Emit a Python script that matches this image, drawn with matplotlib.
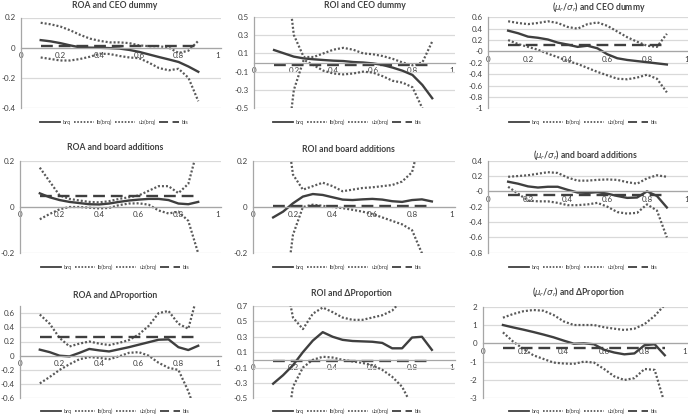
import numpy as np
import matplotlib
matplotlib.use("Agg")
import matplotlib.pyplot as plt
from matplotlib.lines import Line2D

plt.rcParams['font.family'] = ['Lato', 'DejaVu Sans']
plt.rcParams['axes.unicode_minus'] = False

# quantiles on the horizontal axis
q = [0.1, 0.15, 0.2, 0.25, 0.3, 0.35, 0.4, 0.45, 0.5, 0.55, 0.6, 0.65, 0.7, 0.75, 0.8, 0.85, 0.9]

ms = r"($\mu_r$/$\sigma_r$)"
titles = ["ROA and CEO dummy", "ROI and CEO dummy", ms + " and CEO dummy",
          "ROA and board additions", "ROI and board additions", ms + " and board additions",
          "ROA and \u0394Proportion", "ROI and \u0394Proportion", ms + " and \u0394Proportion"]
legend_labels = ["brq", "lb(brq)", "ub(brq)", "bls"]

# ROA and CEO dummy
roa_ceo_brq = [0.05, 0.042, 0.03, 0.015, 0.002, 0.0, -0.001, -0.003, -0.006, -0.015, -0.028, -0.045, -0.062, -0.078, -0.095, -0.125, -0.16]
roa_ceo_lb = [-0.065, -0.075, -0.085, -0.085, -0.075, -0.06, -0.04, -0.042, -0.055, -0.065, -0.07, -0.1, -0.135, -0.15, -0.14, -0.2, -0.355]
roa_ceo_ub = [0.165, 0.155, 0.14, 0.115, 0.085, 0.06, 0.045, 0.035, 0.035, 0.03, 0.015, 0.01, 0.01, 0.0, -0.035, -0.02, 0.045]
roa_ceo_bls = 0.01

# ROI and CEO dummy
roi_ceo_brq = [0.136, 0.1, 0.064, 0.045, 0.035, 0.027, 0.02, 0.016, 0.005, 0.0, -0.01, -0.027, -0.056, -0.09, -0.136, -0.245, -0.39]
roi_ceo_lb = [-2.5, -1.2, -0.3, 0.03, -0.03, -0.09, -0.12, -0.13, -0.12, -0.1, -0.11, -0.15, -0.2, -0.22, -0.27, -0.5, -0.9]
roi_ceo_ub = [2.5, 1.2, 0.3, 0.06, 0.06, 0.1, 0.14, 0.16, 0.14, 0.1, 0.09, 0.07, 0.04, 0.0, -0.03, 0.0, 0.23]
roi_ceo_bls = -0.03

# mu/sigma and CEO dummy
ms_ceo_brq = [0.365, 0.32, 0.26, 0.24, 0.21, 0.155, 0.12, 0.08, 0.1, 0.055, -0.05, -0.12, -0.15, -0.17, -0.19, -0.21, -0.23]
ms_ceo_lb = [0.2, 0.13, 0.08, 0.03, -0.04, -0.1, -0.17, -0.22, -0.29, -0.36, -0.42, -0.48, -0.49, -0.46, -0.41, -0.48, -0.72]
ms_ceo_ub = [0.53, 0.5, 0.48, 0.5, 0.53, 0.5, 0.43, 0.4, 0.48, 0.51, 0.45, 0.35, 0.25, 0.17, 0.1, 0.08, 0.31]
ms_ceo_bls = 0.12

# ROA and board additions
roa_board_brq = [0.059, 0.042, 0.03, 0.022, 0.017, 0.012, 0.011, 0.015, 0.022, 0.028, 0.032, 0.035, 0.035, 0.03, 0.015, 0.012, 0.022]
roa_board_lb = [-0.053, -0.03, -0.01, 0.0, 0.0, -0.003, -0.006, -0.004, 0.008, 0.015, 0.016, 0.01, -0.015, -0.028, -0.02, -0.06, -0.2]
roa_board_ub = [0.17, 0.11, 0.05, 0.035, 0.028, 0.022, 0.02, 0.025, 0.035, 0.042, 0.05, 0.07, 0.09, 0.09, 0.06, 0.1, 0.26]
roa_board_bls = 0.047

# ROI and board additions
roi_board_brq = [-0.045, -0.02, 0.016, 0.045, 0.056, 0.052, 0.042, 0.032, 0.03, 0.033, 0.035, 0.032, 0.025, 0.022, 0.03, 0.033, 0.024]
roi_board_lb = [-0.9, -0.45, -0.12, 0.0, 0.01, 0.005, 0.0, -0.005, -0.012, -0.02, -0.03, -0.045, -0.06, -0.075, -0.1, -0.2, -0.4]
roi_board_ub = [0.9, 0.45, 0.14, 0.075, 0.09, 0.105, 0.09, 0.068, 0.075, 0.082, 0.085, 0.09, 0.095, 0.11, 0.15, 0.32, 0.7]
roi_board_bls = 0.005

# mu/sigma and board additions
ms_board_brq = [0.126, 0.1, 0.065, 0.05, 0.06, 0.06, 0.02, -0.015, -0.02, -0.01, -0.03, -0.06, -0.085, -0.08, 0.0, -0.06, -0.21]
ms_board_lb = [0.06, -0.03, -0.12, -0.13, -0.13, -0.15, -0.18, -0.18, -0.17, -0.15, -0.2, -0.27, -0.29, -0.28, -0.17, -0.25, -0.6]
ms_board_ub = [0.19, 0.2, 0.21, 0.23, 0.25, 0.24, 0.18, 0.14, 0.14, 0.15, 0.155, 0.15, 0.12, 0.1, 0.17, 0.21, 0.19]
ms_board_bls = -0.05

# ROA and delta proportion
roa_prop_brq = [0.085, 0.05, 0.0, -0.01, 0.04, 0.095, 0.075, 0.06, 0.09, 0.12, 0.155, 0.19, 0.225, 0.23, 0.12, 0.08, 0.14]
roa_prop_lb = [-0.39, -0.3, -0.2, -0.12, -0.05, -0.02, -0.03, -0.05, -0.01, 0.04, 0.05, 0.0, -0.1, -0.17, -0.2, -0.5, -0.9]
roa_prop_ub = [0.58, 0.45, 0.25, 0.13, 0.17, 0.2, 0.17, 0.15, 0.18, 0.22, 0.3, 0.42, 0.6, 0.63, 0.45, 0.38, 0.9]
roa_prop_bls = 0.27

# ROI and delta proportion
roi_prop_brq = [-0.31, -0.2, -0.07, 0.1, 0.25, 0.36, 0.3, 0.26, 0.245, 0.24, 0.235, 0.22, 0.15, 0.15, 0.29, 0.3, 0.13]
roi_prop_lb = [-2.0, -1.2, -0.35, -0.1, 0.0, 0.04, 0.03, 0.0, -0.02, -0.04, -0.07, -0.13, -0.22, -0.35, -0.6, -0.9, -1.3]
roi_prop_ub = [2.0, 1.2, 0.55, 0.4, 0.6, 0.68, 0.62, 0.55, 0.52, 0.52, 0.55, 0.58, 0.64, 0.78, 0.95, 1.1, 1.3]
roi_prop_bls = -0.02

# mu/sigma and delta proportion
ms_prop_brq = [1.0, 0.87, 0.75, 0.62, 0.48, 0.33, 0.15, -0.02, 0.0, -0.05, -0.35, -0.5, -0.6, -0.55, -0.1, -0.05, -0.65]
ms_prop_lb = [0.6, 0.1, -0.3, -0.65, -0.85, -1.05, -1.1, -1.12, -1.0, -1.05, -1.4, -1.8, -2.0, -1.9, -1.4, -1.45, -3.3]
ms_prop_ub = [1.4, 1.6, 1.75, 1.82, 1.78, 1.55, 1.2, 1.0, 1.0, 1.0, 0.88, 0.8, 0.73, 0.8, 1.05, 1.5, 2.1]
ms_prop_bls = -0.27

panels = [
    (roa_ceo_brq, roa_ceo_lb, roa_ceo_ub, roa_ceo_bls),
    (roi_ceo_brq, roi_ceo_lb, roi_ceo_ub, roi_ceo_bls),
    (ms_ceo_brq, ms_ceo_lb, ms_ceo_ub, ms_ceo_bls),
    (roa_board_brq, roa_board_lb, roa_board_ub, roa_board_bls),
    (roi_board_brq, roi_board_lb, roi_board_ub, roi_board_bls),
    (ms_board_brq, ms_board_lb, ms_board_ub, ms_board_bls),
    (roa_prop_brq, roa_prop_lb, roa_prop_ub, roa_prop_bls),
    (roi_prop_brq, roi_prop_lb, roi_prop_ub, roi_prop_bls),
    (ms_prop_brq, ms_prop_lb, ms_prop_ub, ms_prop_bls),
]

# y axis: (min, max, first tick, step)
yaxes = [(-0.4, 0.2, -0.4, 0.2), (-0.5, 0.5, -0.5, 0.2), (-1.0, 0.6, -1.0, 0.2),
         (-0.2, 0.2, -0.2, 0.2), (-0.2, 0.2, -0.2, 0.2), (-0.8, 0.4, -0.8, 0.2),
         (-0.6, 0.7, -0.6, 0.2), (-0.5, 0.7, -0.5, 0.2), (-3.0, 2.0, -3.0, 1.0)]

# layout in pixels: x of value 0, x of value 1, y top, y bottom
W, H = 688, 416
boxes = [(21, 218, 17.5, 108), (254.3, 452, 16.7, 108.3), (488.3, 686.7, 17.3, 108.3),
         (20, 218, 160.7, 253.3), (253.3, 451.7, 160.7, 253.3), (488.3, 686.7, 160.7, 252.7),
         (20, 218, 306, 398.3), (253.3, 451.7, 306, 398.3), (482.7, 685, 306.7, 398.3)]
title_pos = [(115, 5), (365, 5), (599, 7), (115, 148), (348, 149), (586, 155),
             (115, 295), (351, 293), (578, 292)]
legend_pos = [(114, 122), (347, 122), (583, 122), (115, 267), (347, 267), (583, 267),
              (115, 411.5), (347, 411.5), (583, 411.5)]

dark = '#3f3f3f'
grey_axis = '#a6a6a6'
styles = [dict(color=dark, lw=1.7, ls='-'),
          dict(color='#595959', lw=1.6, ls=(0, (0.9, 0.9))),
          dict(color='#595959', lw=1.6, ls=(0, (0.9, 0.9))),
          dict(color=dark, lw=1.7, ls=(0, (5, 2.5)))]

fig = plt.figure(figsize=(W / 100, H / 100), dpi=100)

for i, (brq, lb, ub, bls) in enumerate(panels):
    x0, x1, yt, yb = boxes[i]
    ymin, ymax, t0, step = yaxes[i]
    xmax = 1.015
    left = x0 / W
    width = (x1 - x0) * xmax / W
    ax = fig.add_axes([left, 1 - yb / H, width, (yb - yt) / H])
    ax.set_xlim(0, xmax)
    ax.set_ylim(ymin, ymax)

    ticks = np.round(np.arange(t0, ymax + 1e-9, step), 2)
    ax.set_yticks(ticks)
    ax.set_yticklabels(['%g' % t for t in ticks])
    ax.set_xticks([0, 0.2, 0.4, 0.6, 0.8, 1])
    ax.set_xticklabels(['0', '0.2', '0.4', '0.6', '0.8', '1'])
    ax.yaxis.grid(True, color='#d9d9d9', lw=0.9)
    ax.set_axisbelow(True)
    for s in ['top', 'right']:
        ax.spines[s].set_visible(False)
    ax.spines['bottom'].set_position(('data', 0))
    ax.spines['bottom'].set_color(grey_axis)
    ax.spines['bottom'].set_linewidth(0.9)
    ax.spines['left'].set_color(grey_axis)
    ax.spines['left'].set_linewidth(0.9)
    ax.tick_params(length=0, labelsize=5.8, colors='#404040')
    ax.tick_params(axis='y', pad=4)
    ax.tick_params(axis='x', pad=3)

    ax.plot(q, brq, **styles[0])
    ax.plot(q, lb, **styles[1])
    ax.plot(q, ub, **styles[2])
    ax.plot([q[0], q[-1]], [bls, bls], **styles[3])

    tx, ty = title_pos[i]
    fig.text(tx / W, 1 - ty / H, titles[i], ha='center', va='center',
             fontsize=6.2, fontweight='bold', color='#404040')

    handles = [Line2D([], [], color=st['color'], ls=st['ls'], lw=1.3) for st in styles]
    lx, ly = legend_pos[i]
    ax.legend(handles, legend_labels, loc='center', ncol=4, frameon=False,
              bbox_to_anchor=(lx / W, 1 - ly / H), bbox_transform=fig.transFigure,
              fontsize=4.0, handlelength=3.6, handletextpad=0.5, columnspacing=0.6,
              labelcolor='#404040')

fig.savefig("out.png", dpi=100)
